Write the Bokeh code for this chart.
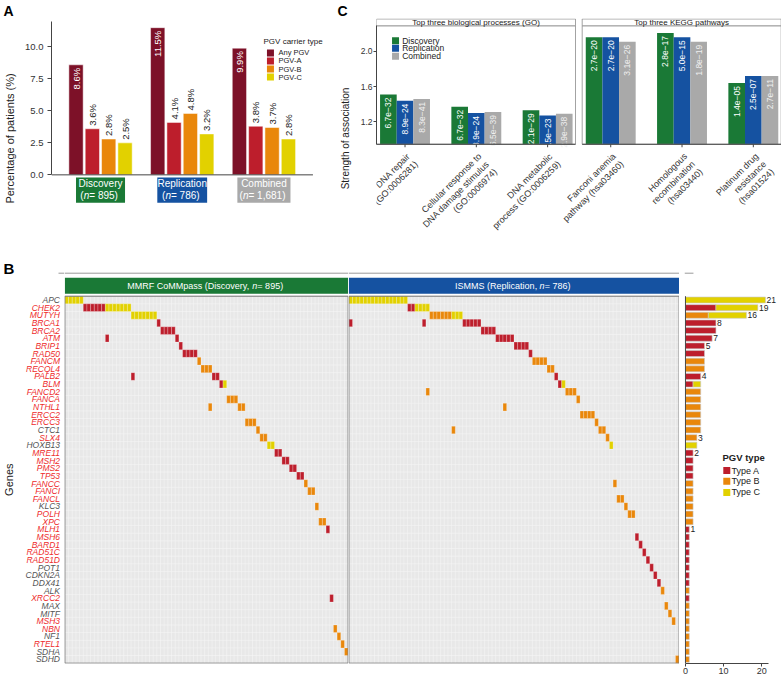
import numpy as np
from bokeh.plotting import figure
from bokeh.layouts import row, column
from bokeh.models import Range1d, FixedTicker, ColumnDataSource, NumeralTickFormatter
from bokeh.core.properties import value
from bokeh.embed import file_html
from bokeh.resources import INLINE

FONT = "Liberation Sans"
F = value(FONT)

# ---------------- DATA ----------------
# Panel A
cohorts = ["Discovery", "Replication", "Combined"]
cohort_n = ["895", "786", "1,681"]
carrier_types = ["Any PGV", "PGV-A", "PGV-B", "PGV-C"]
pct_any_pgv = [8.6, 11.5, 9.9]
pct_pgv_a = [3.6, 4.1, 3.8]
pct_pgv_b = [2.8, 4.8, 3.7]
pct_pgv_c = [2.5, 3.2, 2.8]

# Panel C
facet_titles = ["Top three biological processes (GO)", "Top three KEGG pathways"]
terms = ["DNA repair\n(GO:0006281)",
         "Cellular response to\nDNA damage stimulus\n(GO:0006974)",
         "DNA metabolic\nprocess (GO:0006259)",
         "Fanconi anemia\npathway (hsa03460)",
         "Homologous\nrecombination\n(hsa03440)",
         "Platinum drug\nresistance\n(hsa01524)"]
term_facet = [0, 0, 0, 1, 1, 1]
term_slot = [0, 1, 2, 0, 1, 2]
strength_discovery = [1.51, 1.37, 1.33, 2.16, 2.21, 1.64]
strength_replication = [1.44, 1.30, 1.27, 2.16, 2.16, 1.72]
strength_combined = [1.46, 1.31, 1.29, 2.11, 2.11, 1.72]
pval_discovery = ["6.7e\u221232", "6.7e\u221232", "2.1e\u221229", "2.7e\u221220", "2.8e\u221217", "1.4e\u221205"]
pval_replication = ["8.9e\u221224", "8.9e\u221224", "1.5e\u221223", "2.7e\u221220", "5.0e\u221215", "2.5e\u221207"]
pval_combined = ["8.3e\u221241", "6.5e\u221239", "2.9e\u221238", "3.1e\u221226", "1.8e\u221219", "2.7e\u221211"]

# Panel B
genes = ["APC", "CHEK2", "MUTYH", "BRCA1", "BRCA2", "ATM", "BRIP1", "RAD50", "FANCM", "RECQL4",
         "PALB2", "BLM", "FANCD2", "FANCA", "NTHL1", "ERCC2", "ERCC3", "CTC1", "SLX4", "HOXB13",
         "MRE11", "MSH2", "PMS2", "TP53", "FANCC", "FANCI", "FANCL", "KLC3", "POLH", "XPC",
         "MLH1", "MSH6", "BARD1", "RAD51C", "RAD51D", "POT1", "CDKN2A", "DDX41", "ALK", "XRCC2",
         "MAX", "MITF", "MSH3", "NBN", "NF1", "RTEL1", "SDHA", "SDHD"]
non_ddr_genes = ["APC", "CTC1", "HOXB13", "KLC3", "POT1", "CDKN2A", "DDX41", "ALK", "MAX",
                 "MITF", "NF1", "SDHA", "SDHD"]

disc_block_gene = ["APC", "CHEK2", "CHEK2", "MUTYH", "BRCA1", "BRCA2", "ATM", "BRIP1", "RAD50",
                   "FANCM", "RECQL4", "PALB2", "BLM", "BLM", "FANCA", "NTHL1", "ERCC3", "CTC1",
                   "SLX4", "HOXB13", "MRE11", "MSH2", "PMS2", "TP53", "FANCC", "FANCI", "KLC3",
                   "XPC", "MLH1", "XRCC2", "NBN", "NF1", "RTEL1", "SDHA"]
disc_block_type = ["C", "A", "C", "C", "A", "A", "A", "A", "A",
                   "B", "B", "A", "A", "C", "B", "B", "B", "B",
                   "B", "C", "A", "A", "A", "A", "B", "B", "B",
                   "B", "A", "A", "B", "B", "B", "B"]
disc_block_n = [5, 6, 7, 7, 1, 4, 1, 1, 4,
                1, 3, 2, 1, 1, 3, 2, 3, 1,
                2, 2, 2, 2, 2, 2, 1, 2, 1,
                2, 1, 1, 1, 1, 1, 1]
disc_extra_patient = [11, 18, 39]
disc_extra_gene = ["ATM", "PALB2", "NTHL1"]
disc_extra_type = ["A", "A", "B"]

rep_block_gene = ["APC", "CHEK2", "CHEK2", "MUTYH", "MUTYH", "BRCA1", "BRCA2", "ATM", "BRIP1",
                  "RAD50", "FANCM", "RECQL4", "PALB2", "BLM", "BLM", "FANCD2", "FANCA", "ERCC2",
                  "ERCC3", "CTC1", "SLX4", "HOXB13", "FANCC", "FANCL", "KLC3", "POLH", "MSH6",
                  "BARD1", "RAD51C", "RAD51D", "POT1", "CDKN2A", "DDX41", "ALK", "MAX", "MITF",
                  "MSH3", "SDHD"]
rep_block_type = ["C", "A", "C", "B", "C", "A", "A", "A", "A",
                  "A", "B", "B", "A", "A", "C", "B", "B", "B",
                  "B", "B", "B", "C", "B", "B", "B", "B", "A",
                  "A", "A", "A", "A", "A", "A", "B", "B", "B",
                  "B", "B"]
rep_block_n = [16, 2, 4, 6, 3, 5, 4, 5, 4,
               1, 4, 2, 1, 1, 1, 3, 1, 4,
               1, 2, 1, 1, 1, 2, 1, 2, 1,
               1, 1, 1, 1, 1, 1, 1, 1, 1,
               1, 1]
rep_extra_patient = [0, 20, 21, 28, 42]
rep_extra_gene = ["BRCA1", "BRCA1", "FANCD2", "CTC1", "NTHL1"]
rep_extra_type = ["A", "A", "B", "B", "B"]

pgv_types = ["A", "B", "C"]

# ---------------- STYLE ----------------
C_ANY, C_A, C_B, C_C = "#7d1128", "#bd1e2c", "#e9870b", "#e2d100"
C_GREEN, C_BLUE, C_GRAY = "#1a7936", "#1552a1", "#a9a9a9"
TYPE_COLOR = {"A": C_A, "B": C_B, "C": C_C}
TXT = "#222222"

AW = {' ': 278, '(': 333, ')': 333, ',': 278, '.': 278, '=': 584, ':': 278, '-': 333,
      'a': 556, 'b': 556, 'c': 500, 'd': 556, 'e': 556, 'f': 278, 'g': 556, 'h': 556, 'i': 222,
      'j': 222, 'k': 500, 'l': 222, 'm': 833, 'n': 556, 'o': 556, 'p': 556, 'q': 556, 'r': 333,
      's': 500, 't': 278, 'u': 556, 'v': 500, 'w': 722, 'x': 500, 'y': 500, 'z': 500,
      'A': 667, 'B': 667, 'C': 722, 'D': 722, 'E': 667, 'F': 611, 'G': 778, 'H': 722, 'I': 278,
      'J': 500, 'K': 667, 'L': 556, 'M': 833, 'N': 722, 'O': 778, 'P': 667, 'Q': 778, 'R': 722,
      'S': 667, 'T': 611, 'U': 722, 'V': 667, 'W': 944, 'X': 667, 'Y': 667, 'Z': 611}


def tw(s, size):
    return sum(AW.get(ch, 556) for ch in s) * size / 1000.0


def mkfig(w, h, xr, yr, **kw):
    p = figure(width=w, height=h, x_range=xr, y_range=yr, toolbar_location=None,
               output_backend="svg", tools="", **kw)
    p.outline_line_color = None
    p.background_fill_color = "white"
    p.border_fill_color = "white"
    p.xgrid.visible = False
    p.ygrid.visible = False
    if "frame_align" in p.properties():
        p.frame_align = False
    return p


def style_axis(ax, size, color="#333333"):
    ax.major_label_text_font = FONT
    ax.major_label_text_font_size = size
    ax.major_label_text_color = color
    ax.minor_tick_line_color = None
    ax.major_tick_in = 0
    ax.axis_line_color = "#444444"
    ax.major_tick_line_color = "#444444"
    ax.axis_label_text_font = FONT
    ax.axis_label_text_font_style = "normal"
    ax.axis_label_text_color = TXT


def panel_letter(p, offset):
    t = p.title
    t.align = "left"
    t.offset = offset
    t.standoff = 0
    t.text_font = FONT
    t.text_font_size = "14px"
    t.text_font_style = "bold"
    t.text_color = "black"


def italic_n_text(p, xs, ys, pre, post, size, color):
    """draw pre + italic 'n' + post centred at xs"""
    for x, y, a, b in zip(xs, ys, pre, post):
        w1, wn, w2 = tw(a, size), tw("n", size), tw(b, size)
        left = -(w1 + wn + w2) / 2.0
        common = dict(text_font=F, text_font_size=f"{size}px", text_color=color,
                      text_align="left", text_baseline="middle")
        p.text(x=[x], y=[y], text=[a], x_offset=left, **common)
        p.text(x=[x], y=[y], text=["n"], x_offset=left + w1, text_font_style="italic", **common)
        p.text(x=[x], y=[y], text=[b], x_offset=left + w1 + wn, **common)


W_TOTAL, H_TOTAL = 781, 679
H1 = 258
TOP1 = 17

# ================= PANEL A =================
WA = 333
UA, PYA = 81.7, 12.85
Y0A = 174
LA = 51
pa = mkfig(WA, H1, Range1d(0.4, 0.4 + (WA - LA) / UA),
           Range1d(-(H1 - Y0A) / PYA, (Y0A - TOP1) / PYA), title="A",
           min_border_left=LA, min_border_right=0, min_border_top=TOP1, min_border_bottom=0,
           x_axis_location=None)
panel_letter(pa, 3 - LA)
ya = pa.yaxis[0]
style_axis(ya, "9.5px")
ya.ticker = FixedTicker(ticks=[0, 2.5, 5, 7.5, 10])
ya.formatter = NumeralTickFormatter(format="0.0")
ya.bounds = (0, (Y0A - 20) / PYA)
ya.axis_label = "Percentage of patients (%)"
ya.axis_label_text_font_size = "11px"
ya.axis_label_standoff = 6
ya.major_label_standoff = 4
ya.major_tick_out = 4

groups = np.arange(1, len(cohorts) + 1)
offsets = [-0.3, -0.1, 0.1, 0.3]
series_a = [pct_any_pgv, pct_pgv_a, pct_pgv_b, pct_pgv_c]
colors_a = [C_ANY, C_A, C_B, C_C]
for k, (vals, col, off) in enumerate(zip(series_a, colors_a, offsets)):
    src = ColumnDataSource(dict(x=groups + off, top=vals, lab=[f"{v:.1f}%" for v in vals]))
    pa.vbar(x="x", top="top", bottom=0, width=0.175, source=src, fill_color=col,
            line_color="white", line_width=0.5)
    if k == 0:
        pa.text(x="x", y="top", text="lab", source=src, angle=np.pi / 2, text_align="right",
                text_baseline="middle", y_offset=3, text_color="white", text_font=F,
                text_font_size="9.5px")
    else:
        pa.text(x="x", y="top", text="lab", source=src, angle=np.pi / 2, text_align="left",
                text_baseline="middle", y_offset=-3, text_color=TXT, text_font=F,
                text_font_size="9.5px")
pa.segment(x0=[0.4], y0=[0], x1=[3.6], y1=[0], line_color="#444444", line_width=1)
box_w = [0.60, 0.61, 0.65]
pa.rect(x=groups, y=-1.2, width=box_w, height=1.97, fill_color=[C_GREEN, C_BLUE, C_GRAY],
        line_color=None)
pa.text(x=groups, y=-0.70, text=cohorts, text_align="center", text_baseline="middle",
        text_color="white", text_font=F, text_font_size="10px")
italic_n_text(pa, groups, [-1.63] * 3, ["("] * 3, [f" = {n})" for n in cohort_n], 10, "white")
pa.text(x=[2.995], y=[10.43], text=["PGV carrier type"], text_font=F, text_font_size="8px",
        text_color=TXT, text_align="left", text_baseline="middle")
leg_y = [9.53, 8.90, 8.27, 7.64]
pa.rect(x=3.08, y=leg_y, width=7 / UA, height=7 / PYA, fill_color=colors_a, line_color=None)
pa.text(x=3.178, y=leg_y, text=carrier_types, text_font=F, text_font_size="7.5px",
        text_color=TXT, text_align="left", text_baseline="middle")

# ================= PANEL C =================
WC = W_TOTAL - WA
LC = 376 - WA
UC, PYC = 71.3, 88.3
YC0 = 0.944
Y0C = 143.3
pc = mkfig(WC, H1, Range1d(0.6, 0.6 + (WC - LC) / UC),
           Range1d(YC0 - (H1 - Y0C) / PYC, YC0 + (Y0C - TOP1) / PYC), title="C",
           min_border_left=LC, min_border_right=0, min_border_top=TOP1, min_border_bottom=0,
           x_axis_location=None)
panel_letter(pc, 337 - WA - LC)
PTOP = YC0 + (Y0C - 24.3) / PYC
HTOP = YC0 + (Y0C - TOP1 - 0.5) / PYC
yc = pc.yaxis[0]
style_axis(yc, "8.5px")
yc.ticker = FixedTicker(ticks=[1.2, 1.6, 2.0])
yc.formatter = NumeralTickFormatter(format="0.0")
yc.bounds = (YC0, PTOP)
yc.axis_label = "Strength of association"
yc.axis_label_text_font_size = "10px"
yc.axis_label_standoff = 7
yc.major_label_standoff = 1
yc.major_tick_out = 3

facet_start = [0.6, 0.6 + 205.7 / UC]
facet_w = 199 / UC
facet_left = facet_start
facet_right = [s + facet_w for s in facet_start]
cats = np.array([facet_start[f] + 0.4 + s for f, s in zip(term_facet, term_slot)])
series_c = [(strength_discovery, pval_discovery, C_GREEN, "white"),
            (strength_replication, pval_replication, C_BLUE, "white"),
            (strength_combined, pval_combined, C_GRAY, "#f0f0f0")]
bw = 0.7 / 3
for k, (vals, labs, col, tcol) in enumerate(series_c):
    src = ColumnDataSource(dict(x=cats + (k - 1) * bw, top=vals, lab=labs))
    pc.vbar(x="x", top="top", bottom=YC0, width=bw, source=src, fill_color=col, line_color=None)
    pc.text(x="x", y="top", text="lab", source=src, angle=np.pi / 2, text_align="right",
            text_baseline="middle", y_offset=3, text_color=tcol, text_font=F,
            text_font_size="8.5px")
pc.quad(left=facet_left, right=facet_right, bottom=YC0, top=PTOP, fill_color=None,
        line_color="#8c8c8c", line_width=0.8)
pc.quad(left=facet_left, right=facet_right, bottom=PTOP, top=HTOP,
        fill_color="white", line_color="#8c8c8c", line_width=0.8)
pc.text(x=[(a + b) / 2 for a, b in zip(facet_left, facet_right)], y=(PTOP + HTOP) / 2,
        text=facet_titles, text_font=F, text_font_size="8px", text_color="#1a1a1a",
        text_align="center", text_baseline="middle")
pc.segment(x0=facet_left, y0=YC0, x1=facet_right, y1=YC0, line_color="#444444", line_width=1)
pc.segment(x0=cats, y0=YC0, x1=cats, y1=YC0 - 3 / PYC, line_color="#444444", line_width=1)
pc.text(x=cats, y=YC0 - 7 / PYC, text=terms, angle=np.pi / 4, text_align="right",
        text_baseline="top", text_font=F, text_font_size="9px", text_color="#333333",
        text_line_height=1.1)
legc_y = [2.122, 2.035, 1.944]
pc.rect(x=0.867, y=legc_y, width=7 / UC, height=7 / PYC, fill_color=[C_GREEN, C_BLUE, C_GRAY],
        line_color=None)
pc.text(x=0.960, y=legc_y, text=["Discovery", "Replication", "Combined"], text_font=F,
        text_font_size="8.5px", text_color=TXT, text_align="left", text_baseline="middle")

# ================= PANEL B =================
HB = H_TOTAL - H1
ROW_PX = 7.646
MB_BOT = 16
NG = len(genes)
Y_BOT = -0.5 - 0.3 / ROW_PX
YR = Range1d(Y_BOT, Y_BOT + (HB - MB_BOT) / ROW_PX)
gene_y = {g: (NG - 1) - i for i, g in enumerate(genes)}
TOP_ROW = NG - 0.5
HDR_B, HDR_T = TOP_ROW + 2.4 / ROW_PX, TOP_ROW + 18.4 / ROW_PX
LINE_Y = TOP_ROW + 23 / ROW_PX


def expand(gs, ts, ns):
    pg_, pt_ = [], []
    for g, t, n in zip(gs, ts, ns):
        pg_ += [g] * n
        pt_ += [t] * n
    return pg_, pt_


disc_g, disc_t = expand(disc_block_gene, disc_block_type, disc_block_n)
rep_g, rep_t = expand(rep_block_gene, rep_block_type, rep_block_n)
disc_cells = (list(range(len(disc_g))) + disc_extra_patient, disc_g + disc_extra_gene,
              disc_t + disc_extra_type)
rep_cells = (list(range(len(rep_g))) + rep_extra_patient, rep_g + rep_extra_gene,
             rep_t + rep_extra_type)

GW = 64
pg = mkfig(GW, HB, Range1d(0, GW), YR, min_border_left=0, min_border_right=0,
           min_border_top=0, min_border_bottom=MB_BOT, x_axis_location=None,
           y_axis_location=None)
gsrc = ColumnDataSource(dict(y=[gene_y[g] for g in genes], t=genes,
                             c=["#555555" if g in non_ddr_genes else "#ee2c2c" for g in genes]))
pg.text(x=59.5, y="y", text="t", text_color="c", source=gsrc, text_font=F,
        text_font_size="8.5px", text_font_style="italic", text_align="right",
        text_baseline="middle")
pg.text(x=[8], y=[(NG - 1) / 2], text=["Genes"], angle=np.pi / 2, text_font=F,
        text_font_size="11px", text_color=TXT, text_align="center", text_baseline="middle")
pg.text(x=[3], y=[TOP_ROW + 27.7 / ROW_PX], text=["B"], text_font=F, text_font_size="15px",
        text_font_style="bold", text_color="black", text_align="left", text_baseline="middle")
pg.segment(x0=[58], y0=[LINE_Y], x1=[GW], y1=[LINE_Y], line_color="#9a9a9a", line_width=1)


def onco(width, cells, fill, pre, post):
    pats, gs, ts = cells
    npat = max(pats) + 1
    p = mkfig(width, HB, Range1d(-0.6, npat - 0.4), YR, min_border_left=0, min_border_right=0,
              min_border_top=0, min_border_bottom=MB_BOT, x_axis_location=None,
              y_axis_location=None)
    p.quad(left=[-0.5], right=[npat - 0.5], bottom=[-0.5], top=[TOP_ROW], fill_color="#e8e8e8",
           line_color=None)
    vx = np.arange(npat - 1) + 0.5
    p.segment(x0=vx, y0=-0.5, x1=vx, y1=TOP_ROW, line_color="#f5f5f5", line_width=0.6)
    hy = np.arange(NG - 1) + 0.5
    p.segment(x0=-0.5, y0=hy, x1=npat - 0.5, y1=hy, line_color="#f5f5f5", line_width=0.6)
    src = ColumnDataSource(dict(x=pats, y=[gene_y[g] for g in gs],
                                c=[TYPE_COLOR[t] for t in ts]))
    p.rect(x="x", y="y", width=1, height=1, fill_color="c", line_color="white",
           line_alpha=0.35, line_width=0.7, source=src)
    p.quad(left=[-0.5], right=[npat - 0.5], bottom=[-0.5], top=[TOP_ROW], fill_color=None,
           line_color="#707070", line_width=1)
    p.quad(left=[-0.5], right=[npat - 0.5], bottom=[HDR_B], top=[HDR_T], fill_color=fill,
           line_color=None)
    italic_n_text(p, [(npat - 1) / 2], [(HDR_B + HDR_T) / 2], [pre], [post], 9, "white")
    p.segment(x0=[-0.6], y0=[LINE_Y], x1=[npat - 0.4], y1=[LINE_Y], line_color="#9a9a9a",
              line_width=1)
    return p


pdisc = onco(284, disc_cells, C_GREEN, "MMRF CoMMpass (Discovery, ", f" = {cohort_n[0]})")
prep = onco(331, rep_cells, C_BLUE, "ISMMS (Replication, ", f" = {cohort_n[1]})")

counts = {t: [0] * NG for t in pgv_types}
for pats, gs, ts in (disc_cells, rep_cells):
    for g, t in zip(gs, ts):
        counts[t][genes.index(g)] += 1
totals = [sum(counts[t][i] for t in pgv_types) for i in range(NG)]

BPX = 3.81
BW = W_TOTAL - GW - 284 - 331
pbar = mkfig(BW, HB, Range1d(-0.25, -0.25 + (BW - 5) / BPX), YR, min_border_left=5,
             min_border_right=0, min_border_top=0, min_border_bottom=MB_BOT,
             y_axis_location=None)
left = np.zeros(NG)
ys = np.array([gene_y[g] for g in genes])
for t in pgv_types:
    c = np.array(counts[t], dtype=float)
    m = c > 0
    pbar.hbar(y=ys[m], left=left[m], right=(left + c)[m], height=0.78,
              fill_color=TYPE_COLOR[t], line_color="#c8c8c8", line_width=0.6)
    left = left + c
lab_idx = [i for i in range(NG) if i == 0 or totals[i] != totals[i - 1]]
pbar.text(x=[totals[i] + 0.3 for i in lab_idx], y=[ys[i] for i in lab_idx],
          text=[str(totals[i]) for i in lab_idx], text_font=F, text_font_size="8.5px",
          text_color=TXT, text_align="left", text_baseline="middle")
pbar.segment(x0=[0], y0=[-0.5], x1=[0], y1=[TOP_ROW], line_color="#444444", line_width=1)
pbar.segment(x0=[-0.25], y0=[LINE_Y], x1=[2.1], y1=[LINE_Y], line_color="#9a9a9a",
             line_width=1)
xb = pbar.xaxis[0]
style_axis(xb, "9px")
xb.ticker = FixedTicker(ticks=[0, 10, 20])
xb.bounds = (0, 21.8)
xb.major_label_standoff = 1
xb.major_tick_out = 3
pbar.text(x=[9.72], y=[26.4], text=["PGV type"], text_font=F, text_font_size="9.5px",
          text_font_style="bold", text_color=TXT, text_align="left", text_baseline="middle")
legb_y = [24.7, 23.3, 21.83]
pbar.rect(x=10.85, y=legb_y, width=7 / BPX, height=7 / ROW_PX,
          fill_color=[TYPE_COLOR[t] for t in pgv_types], line_color=None)
pbar.text(x=12.09, y=legb_y, text=[f"Type {t}" for t in pgv_types], text_font=F,
          text_font_size="9px", text_color=TXT, text_align="left", text_baseline="middle")

layout = column(row(pa, pc), row(pg, pdisc, prep, pbar))
open("out.html", "w").write(file_html(layout, INLINE))
